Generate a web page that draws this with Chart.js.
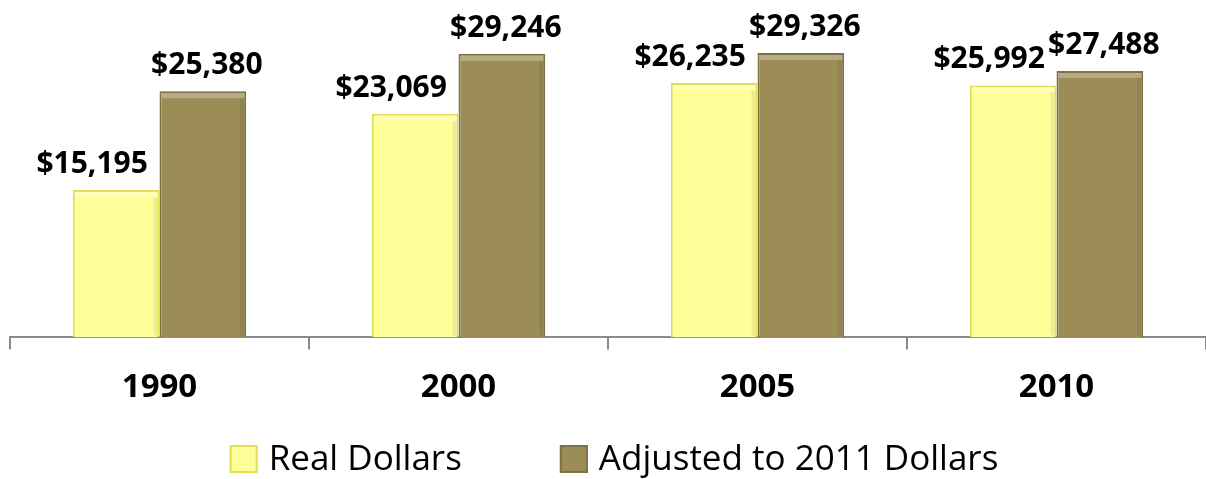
<!DOCTYPE html>
<html lang="en">
<head>
    <meta charset="UTF-8">
    <title>Real vs Adjusted Dollars</title>
    <style>
        html, body {
            margin: 0;
            padding: 0;
            background: #ffffff;
        }
        #wrap {
            width: 1206px;
            height: 479px;
        }
    </style>
</head>
<body>
<div id="wrap">
    <canvas id="dollarChart" width="1206" height="479"></canvas>
</div>

<script src="https://cdn.jsdelivr.net/npm/chart.js"></script>
<script>
    const years = ['1990', '2000', '2005', '2010'];
    const realDollars = [15195, 23069, 26235, 25992];
    const adjustedDollars = [25380, 29246, 29326, 27488];
    const seriesNames = ['Real Dollars', 'Adjusted to 2011 Dollars'];

    const FONT = "'Open Sans', 'DejaVu Sans', sans-serif";

    function money(v) {
        return '$' + v.toLocaleString('en-US');
    }

    // value labels over each bar, yellow ones nudged left so they don't collide
    const valueLabels = {
        id: 'valueLabels',
        afterDatasetsDraw(chart, args, opts) {
            const ctx = chart.ctx;
            ctx.save();
            ctx.font = 'bold 30px ' + FONT;
            ctx.fillStyle = '#000';
            ctx.textAlign = 'center';
            ctx.textBaseline = 'alphabetic';
            chart.data.datasets.forEach((ds, di) => {
                const meta = chart.getDatasetMeta(di);
                const shift = opts.shift[di];
                meta.data.forEach((bar, i) => {
                    ctx.fillText(money(ds.data[i]), bar.x + shift, bar.y - 17);
                });
            });
            ctx.restore();
        }
    };

    // soft bevel: light strip on top, darker strip on the right side
    const bevel = {
        id: 'bevel',
        afterDatasetsDraw(chart) {
            const ctx = chart.ctx;
            ctx.save();
            chart.data.datasets.forEach((ds, di) => {
                const meta = chart.getDatasetMeta(di);
                meta.data.forEach(bar => {
                    const l = bar.x - bar.width / 2;
                    const w = bar.width;
                    const h = bar.base - bar.y;
                    ctx.fillStyle = 'rgba(255,255,255,0.28)';
                    ctx.fillRect(l + 2, bar.y + 2, w - 4, 5);
                    ctx.fillStyle = 'rgba(0,0,0,0.07)';
                    ctx.fillRect(l + w - 6, bar.y + 7, 4, h - 9);
                });
            });
            ctx.restore();
        }
    };

    // legend drawn by hand so the gap between the two items can be wide
    const wideLegend = {
        id: 'wideLegend',
        afterDraw(chart, args, opts) {
            const ctx = chart.ctx;
            const box = opts.box;
            ctx.save();
            ctx.font = opts.size + 'px ' + FONT;
            ctx.textBaseline = 'middle';
            const items = chart.data.datasets.map(ds => ({
                ds: ds,
                w: box + opts.textGap + ctx.measureText(ds.label).width
            }));
            let total = items.reduce((s, it) => s + it.w, 0) + opts.itemGap * (items.length - 1);
            const area = chart.chartArea;
            let x = (area.left + area.right) / 2 + opts.nudge - total / 2;
            const y = opts.y;
            items.forEach(it => {
                ctx.fillStyle = it.ds.backgroundColor;
                ctx.fillRect(x, y - box / 2, box, box);
                ctx.strokeStyle = it.ds.borderColor;
                ctx.lineWidth = 2;
                ctx.strokeRect(x + 1, y - box / 2 + 1, box - 2, box - 2);
                ctx.fillStyle = '#000';
                ctx.fillText(it.ds.label, x + box + opts.textGap, y + 1);
                x += it.w + opts.itemGap;
            });
            ctx.restore();
        }
    };

    const ctx = document.getElementById('dollarChart').getContext('2d');
    new Chart(ctx, {
        type: 'bar',
        data: {
            labels: years,
            datasets: [{
                label: seriesNames[0],
                data: realDollars,
                backgroundColor: '#FFFF99',
                borderColor: '#E0E050',
                borderWidth: 2
            }, {
                label: seriesNames[1],
                data: adjustedDollars,
                backgroundColor: '#9C8D57',
                borderColor: '#7C7044',
                borderWidth: 2
            }]
        },
        options: {
            responsive: false,
            animation: false,
            layout: {
                padding: { left: 10, right: 0, top: 0, bottom: 54 }
            },
            datasets: {
                bar: {
                    categoryPercentage: 0.58,
                    barPercentage: 1.0
                }
            },
            scales: {
                x: {
                    grid: {
                        display: true,
                        drawOnChartArea: false,
                        drawTicks: true,
                        tickLength: 12,
                        color: '#8a8a8a',
                        lineWidth: 2
                    },
                    border: { color: '#8a8a8a', width: 2 },
                    ticks: {
                        color: '#000',
                        padding: 18,
                        font: { family: FONT, size: 33, weight: 'bold' }
                    }
                },
                y: {
                    display: false,
                    min: 0,
                    max: 34800
                }
            },
            plugins: {
                legend: { display: false },
                tooltip: { enabled: false },
                valueLabels: { shift: [-24, 4] },
                wideLegend: { box: 28, size: 35, textGap: 11, itemGap: 98, y: 459, nudge: 6 }
            }
        },
        plugins: [bevel, valueLabels, wideLegend]
    });
</script>
</body>
</html>
